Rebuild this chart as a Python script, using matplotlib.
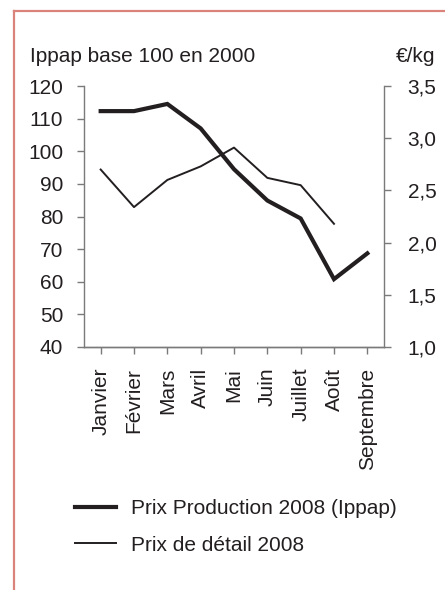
import matplotlib
matplotlib.use("Agg")
import matplotlib.pyplot as plt
from matplotlib.lines import Line2D

plt.rcParams['font.family'] = ['Liberation Sans', 'DejaVu Sans']

mois = ['Janvier', 'Février', 'Mars', 'Avril', 'Mai', 'Juin', 'Juillet', 'Août', 'Septembre']
# prix production (indice Ippap, axe gauche)
ippap = [112.3, 112.3, 114.5, 107.0, 94.5, 84.9, 79.4, 60.8, 68.7]
# prix de détail en €/kg (axe droit), pas de valeur en septembre
detail = [2.70, 2.34, 2.60, 2.73, 2.91, 2.62, 2.55, 2.18]

fs = 15
gris = '#7a7a7a'
noir = '#231f20'

fig = plt.figure(figsize=(4.45, 5.90), dpi=100)
ax = fig.add_axes([84/445, 1 - 347/590, 300/445, 261/590])
ax2 = ax.twinx()

x = list(range(len(mois)))
l1, = ax.plot(x, ippap, color=noir, lw=3.0, solid_joinstyle='miter', label='Prix Production 2008 (Ippap)')
l2, = ax2.plot(x[:len(detail)], detail, color=noir, lw=1.4, label='Prix de détail 2008')

ax.set_xlim(-0.5, 8.5)
ax.set_ylim(40, 120)
ax.set_yticks(range(40, 121, 10))
ax2.set_ylim(1.0, 3.5)
ax2.set_yticks([1.0, 1.5, 2.0, 2.5, 3.0, 3.5])
ax2.set_yticklabels(['1,0', '1,5', '2,0', '2,5', '3,0', '3,5'])
ax.set_xticks(x)
ax.set_xticklabels(mois, rotation=90)

for a in (ax, ax2):
    a.spines['top'].set_visible(False)
    for s in a.spines.values():
        s.set_color(gris)
        s.set_linewidth(1.0)
    a.tick_params(colors=gris, labelcolor=noir, labelsize=fs, length=5, width=1.0)
ax.spines['right'].set_visible(False)
ax2.spines['left'].set_visible(False)
ax.tick_params(axis='y', pad=10)
ax.tick_params(axis='x', pad=10)
ax2.tick_params(axis='y', pad=12)

fig.text(30/445, 1 - 62/590, 'Ippap base 100 en 2000', fontsize=fs, color=noir, va='baseline')
fig.text(435/445, 1 - 62/590, '€/kg', fontsize=fs, color=noir, va='baseline', ha='right')

fig.legend(handles=[l1, l2], loc='upper left', bbox_to_anchor=(75/445, 1 - 499/590),
           frameon=False, fontsize=fs, handlelength=1.95, handletextpad=0.72,
           labelspacing=0.85, borderaxespad=0, borderpad=0, labelcolor=noir)

# cadre rose
cadre = '#d9837b'
fig.add_artist(Line2D([13.5/445, 13.5/445], [0, 1 - 10.5/590], color=cadre, lw=1.6))
fig.add_artist(Line2D([13.5/445, 1], [1 - 10.5/590, 1 - 10.5/590], color=cadre, lw=1.6))

fig.savefig('out.png', dpi=100, facecolor='white')
